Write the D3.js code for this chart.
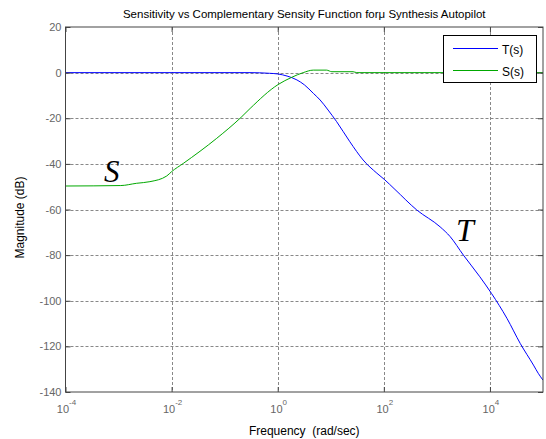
<!DOCTYPE html>
<html>
<head>
<meta charset="utf-8">
<script src="https://cdn.jsdelivr.net/npm/d3@7"></script>
<style>
  body { margin: 0; background: #fff; }
  svg { display: block; font-family: Arial, "Liberation Sans", sans-serif; }
</style>
</head>
<body>
<div id="chart"></div>
<script>
// complementary sensitivity T(s) (rad/sec, dB)
const tFreq = [1e-4, 0.3, 0.7, 1.02, 1.5, 2.3, 3.2, 4.7, 6.3, 8.9, 12.9, 22.9, 40.7, 74, 102, 162,
               417, 1150, 1780, 3160, 6460, 10700, 20900, 37200, 66100, 81300, 1e5];
const tMag  = [0, 0, -0.3, -0.6, -1.5, -3.2, -5.4, -9.1, -12, -16.4, -21.5, -30.3, -38.3, -44.1, -46.8, -51.2,
               -60.2, -67.6, -71.9, -80, -89.5, -96.8, -107.7, -118.7, -128.2, -131.8, -134.8];

// sensitivity S(s)
const sFreq = [1e-4, 1.1e-3, 2.2e-3, 3.9e-3, 8.1e-3, 0.01, 0.0166, 0.0708, 0.204, 0.302, 1.02, 1.82,
               3.02, 4.68, 8.3, 10.5, 26.3, 30.9, 1e5];
const sMag  = [-49.7, -49.5, -48.5, -47.8, -45.3, -43.4, -39.8, -28.8, -19.6, -15.7, -5.2, -2.1,
               0, 1.1, 1.1, 0.4, 0.4, 0, 0];

const xTicks = [1e-4, 1e-2, 1e0, 1e2, 1e4];
const xExp = ["-4", "-2", "0", "2", "4"];
const yTicks = [20, 0, -20, -40, -60, -80, -100, -120, -140];

const width = 546, height = 439;
const margin = { top: 27, right: 3, bottom: 47, left: 65.5 };

const svg = d3.select("#chart").append("svg")
    .attr("width", width)
    .attr("height", height);

const x = d3.scaleLog()
    .domain([1e-4, 1e5])
    .range([margin.left, width - margin.right]);

const y = d3.scaleLinear()
    .domain([-140, 20])
    .range([height - margin.bottom, margin.top]);

const x0 = x.range()[0], x1 = x.range()[1];
const y0 = y.range()[0], y1 = y.range()[1];

// grid
const grid = svg.append("g")
    .attr("stroke", "#888")
    .attr("stroke-width", 1)
    .attr("stroke-dasharray", "3,2");

grid.selectAll(".gx")
    .data(xTicks.slice(1))
    .join("line")
    .attr("x1", d => Math.round(x(d)) + 0.5)
    .attr("x2", d => Math.round(x(d)) + 0.5)
    .attr("y1", y1)
    .attr("y2", y0);

grid.selectAll(".gy")
    .data(yTicks.slice(1, -1))
    .join("line")
    .attr("x1", x0)
    .attr("x2", x1)
    .attr("y1", d => Math.round(y(d)) + 0.5)
    .attr("y2", d => Math.round(y(d)) + 0.5);

// curves
svg.append("clipPath").attr("id", "clip")
    .append("rect")
    .attr("x", x0).attr("y", y1)
    .attr("width", x1 - x0).attr("height", y0 - y1);

const line = d3.line()
    .x(d => x(d[0]))
    .y(d => y(d[1]))
    .curve(d3.curveMonotoneX);

const plot = svg.append("g").attr("clip-path", "url(#clip)");

plot.append("path")
    .datum(d3.zip(tFreq, tMag))
    .attr("fill", "none")
    .attr("stroke", "#0000ff")
    .attr("stroke-width", 1)
    .attr("d", line);

plot.append("path")
    .datum(d3.zip(sFreq, sMag))
    .attr("fill", "none")
    .attr("stroke", "#00a800")
    .attr("stroke-width", 1)
    .attr("d", line);

// axes (ticks pointing inward, on all four sides)
const axisColor = "#444";

const axBottom = svg.append("g")
    .attr("transform", `translate(0,${y0})`)
    .call(d3.axisBottom(x).tickValues(xTicks).tickSize(-5).tickFormat(""));

const axTop = svg.append("g")
    .attr("transform", `translate(0,${y1})`)
    .call(d3.axisTop(x).tickValues(xTicks).tickSize(-5).tickFormat(""));

const axLeft = svg.append("g")
    .attr("transform", `translate(${x0},0)`)
    .call(d3.axisLeft(y).tickValues(yTicks).tickSize(-5).tickFormat(""));

const axRight = svg.append("g")
    .attr("transform", `translate(${x1},0)`)
    .call(d3.axisRight(y).tickValues(yTicks).tickSize(-5).tickFormat(""));

[axBottom, axTop, axLeft, axRight].forEach(g => {
    g.select(".domain").remove();
    g.selectAll("line").attr("stroke", axisColor);
});

svg.append("rect")
    .attr("x", x0).attr("y", y1)
    .attr("width", x1 - x0).attr("height", y0 - y1)
    .attr("fill", "none")
    .attr("stroke", axisColor)
    .attr("stroke-width", 1);

// tick labels
const xl = svg.append("g")
    .attr("fill", "#666")
    .attr("font-size", 11)
    .attr("text-anchor", "middle");

xTicks.forEach((t, i) => {
    const txt = xl.append("text")
        .attr("x", x(t) + 1)
        .attr("y", y0 + 21);
    txt.append("tspan").text("10");
    txt.append("tspan").attr("dy", -8).attr("font-size", 8).text(xExp[i]);
});

svg.append("g")
    .attr("fill", "#666")
    .attr("font-size", 11)
    .attr("text-anchor", "end")
    .selectAll("text")
    .data(yTicks)
    .join("text")
    .attr("x", x0 - 4)
    .attr("y", d => y(d) + 4)
    .text(d => d);

// titles
svg.append("text")
    .attr("x", (x0 + x1) / 2)
    .attr("y", 18)
    .attr("text-anchor", "middle")
    .attr("font-size", 11.5)
    .text("Sensitivity vs Complementary Sensity Function for\u03bc Synthesis Autopilot");

svg.append("text")
    .attr("x", (x0 + x1) / 2)
    .attr("y", 435)
    .attr("text-anchor", "middle")
    .attr("font-size", 12)
    .attr("xml:space", "preserve")
    .text("Frequency  (rad/sec)");

svg.append("text")
    .attr("transform", `translate(24,${(y0 + y1) / 2 + 8}) rotate(-90)`)
    .attr("text-anchor", "middle")
    .attr("font-size", 12)
    .text("Magnitude (dB)");

// curve annotations
svg.append("text")
    .attr("x", 104).attr("y", 182)
    .attr("font-family", "'Liberation Serif', 'Times New Roman', serif")
    .attr("font-style", "italic")
    .attr("font-size", 31)
    .text("S");

svg.append("text")
    .attr("x", 456).attr("y", 241)
    .attr("font-family", "'Liberation Serif', 'Times New Roman', serif")
    .attr("font-style", "italic")
    .attr("font-size", 32)
    .text("T");

// legend
const legend = svg.append("g");
legend.append("rect")
    .attr("x", 443.5).attr("y", 35.5)
    .attr("width", 93).attr("height", 47)
    .attr("fill", "#fff")
    .attr("stroke", "#000")
    .attr("stroke-width", 1);

const items = [["T(s)", "#0000ff", 48], ["S(s)", "#00a800", 70]];
items.forEach(([label, color, ly]) => {
    legend.append("line")
        .attr("x1", 453).attr("x2", 498)
        .attr("y1", ly + 0.5).attr("y2", ly + 0.5)
        .attr("stroke", color);
    legend.append("text")
        .attr("x", 502).attr("y", ly + 6)
        .attr("font-size", 12)
        .text(label);
});
</script>
</body>
</html>
